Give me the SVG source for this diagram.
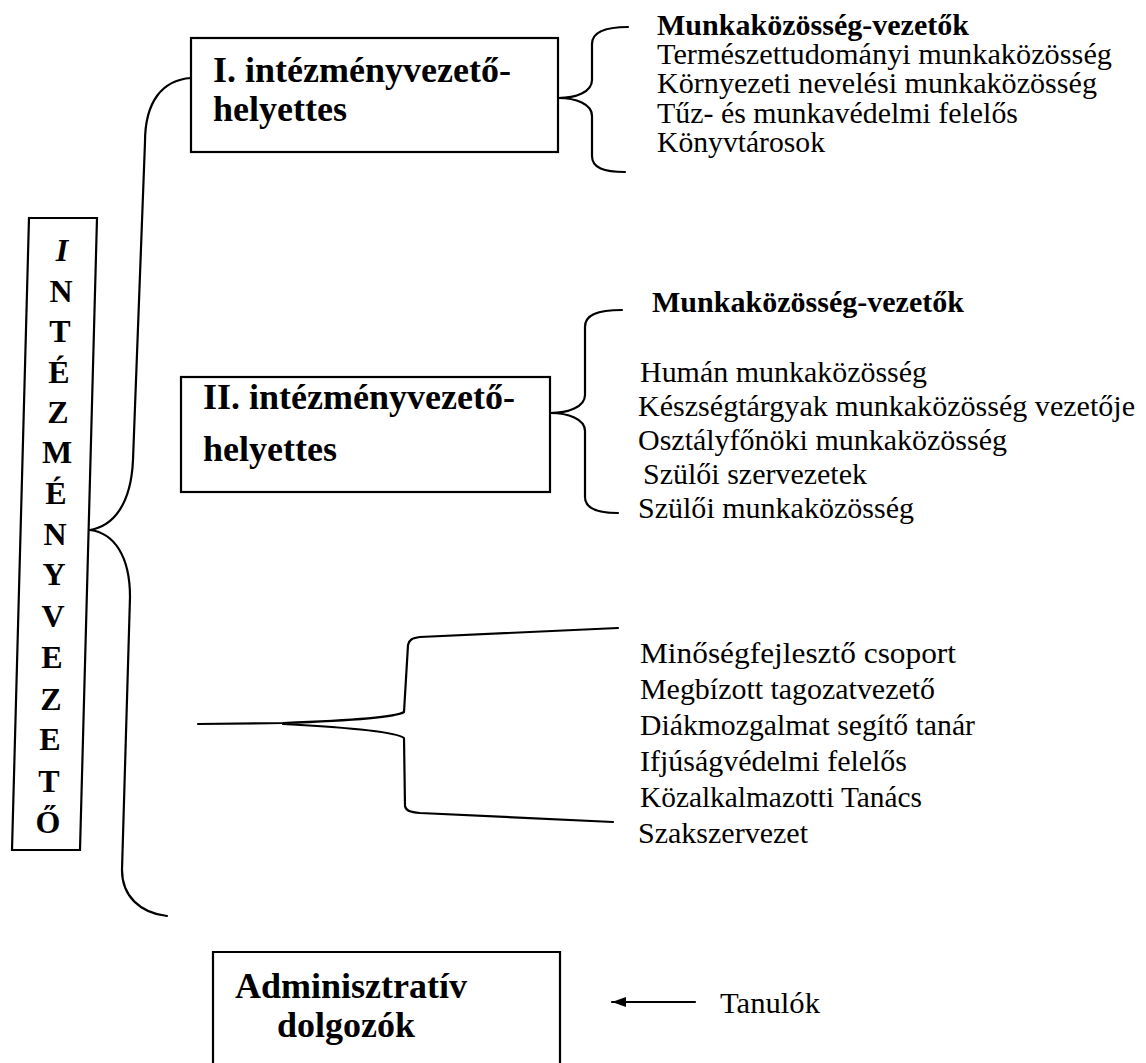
<svg xmlns="http://www.w3.org/2000/svg" width="1146" height="1063" viewBox="0 0 1146 1063">
<style>
.box{fill:#fff;stroke:#000;stroke-width:2.2}
.ln{fill:none;stroke:#000;stroke-width:2.2;stroke-linecap:round;stroke-linejoin:round}
.bt{font-family:"Liberation Serif","Times New Roman",serif;font-weight:bold;font-size:36px;fill:#000}
.vt{font-family:"Liberation Serif","Times New Roman",serif;font-weight:bold;font-size:32px;fill:#000;text-anchor:middle}
.t{font-family:"Liberation Serif","Times New Roman",serif;font-size:29px;fill:#000}
.tb{font-family:"Liberation Serif","Times New Roman",serif;font-weight:bold;font-size:29px;fill:#000}
</style>
<defs>
<marker id="ah" viewBox="0 0 14 10" refX="14" refY="5" markerWidth="14" markerHeight="10" markerUnits="userSpaceOnUse" orient="auto">
<path d="M0,0 L14,5 L0,10 Z" fill="#000"/>
</marker>
</defs>
<rect width="1146" height="1063" fill="#fff"/>

<g id="connectors">
<path class="ln" d="M191,78 C162,80 145,102 145,142 L133,460 C131,505 113,526 90,530"/>
<path class="ln" d="M90,530 C114,533 130,556 130,597 L122,870 C122,896 140,913 167,916"/>
<path class="ln" d="M558,98 C576,98 592,92 592,80 L592,44 C592,32 604,27 628,27"/>
<path class="ln" d="M558,98 C576,98 592,104 592,116 L592,156 C592,168 604,172 625,172"/>
<path class="ln" d="M550,413 C568,413 585,407 585,395 L585,327 C585,315 597,310 622,310"/>
<path class="ln" d="M550,413 C568,413 585,419 585,431 L585,497 C585,508 597,513 618,513"/>
<path class="ln" d="M198,724 L283,723 C340,721 395,718 404,712 L408,645 C409,640 412,638 420,637 L618,628"/>
<path class="ln" d="M283,724 C340,727 395,731 404,738 L405,806 C406,811 410,812 420,813 L613,822"/>
<path class="ln" d="M695,1002 L612,1002" marker-end="url(#ah)"/>
</g>

<g id="node-intezmenyvezeto">
<polygon class="box" points="29,218 97,218 80,850 12,850"/>
<text class="vt" x="62" y="261" font-style="italic">I</text>
<text class="vt" x="61" y="302">N</text>
<text class="vt" x="60" y="342">T</text>
<text class="vt" x="59" y="383">É</text>
<text class="vt" x="58" y="423">Z</text>
<text class="vt" x="57" y="463">M</text>
<text class="vt" x="56" y="504">É</text>
<text class="vt" x="55" y="545">N</text>
<text class="vt" x="54" y="585">Y</text>
<text class="vt" x="53" y="627">V</text>
<text class="vt" x="52" y="668">E</text>
<text class="vt" x="51" y="710">Z</text>
<text class="vt" x="50" y="750">E</text>
<text class="vt" x="49" y="792">T</text>
<text class="vt" x="48" y="833">Ő</text>
</g>

<g id="node-helyettes1">
<rect class="box" x="191" y="38" width="367" height="114"/>
<text class="bt" x="213" y="82">I. intézményvezető-</text>
<text class="bt" x="213" y="121">helyettes</text>
</g>

<g id="node-helyettes2">
<rect class="box" x="181" y="377" width="369" height="115"/>
<text class="bt" x="203" y="409">II. intézményvezető-</text>
<text class="bt" x="203" y="461">helyettes</text>
</g>

<g id="node-adminisztrativ">
<path class="box" d="M213,1070 L213,952 L560,952 L560,1070"/>
<text class="bt" x="235" y="998">Adminisztratív</text>
<text class="bt" x="277" y="1037">dolgozók</text>
</g>

<g id="list-1">
<text class="tb" x="657" y="35" textLength="312" lengthAdjust="spacingAndGlyphs">Munkaközösség-vezetők</text>
<text class="t" x="657" y="64" textLength="455" lengthAdjust="spacingAndGlyphs">Természettudományi munkaközösség</text>
<text class="t" x="657" y="93" textLength="440" lengthAdjust="spacingAndGlyphs">Környezeti nevelési munkaközösség</text>
<text class="t" x="657" y="123" textLength="361" lengthAdjust="spacingAndGlyphs">Tűz- és munkavédelmi felelős</text>
<text class="t" x="657" y="152" textLength="168" lengthAdjust="spacingAndGlyphs">Könyvtárosok</text>
</g>

<g id="list-2">
<text class="tb" x="652" y="312" textLength="312" lengthAdjust="spacingAndGlyphs">Munkaközösség-vezetők</text>
<text class="t" x="640" y="382" textLength="287" lengthAdjust="spacingAndGlyphs">Humán munkaközösség</text>
<text class="t" x="638" y="416" textLength="497" lengthAdjust="spacingAndGlyphs">Készségtárgyak munkaközösség vezetője</text>
<text class="t" x="638" y="450" textLength="369" lengthAdjust="spacingAndGlyphs">Osztályfőnöki munkaközösség</text>
<text class="t" x="643" y="484" textLength="224" lengthAdjust="spacingAndGlyphs">Szülői szervezetek</text>
<text class="t" x="638" y="518" textLength="276" lengthAdjust="spacingAndGlyphs">Szülői munkaközösség</text>
</g>

<g id="list-3">
<text class="t" x="640" y="663" textLength="316" lengthAdjust="spacingAndGlyphs">Minőségfejlesztő csoport</text>
<text class="t" x="640" y="699" textLength="295" lengthAdjust="spacingAndGlyphs">Megbízott tagozatvezető</text>
<text class="t" x="640" y="735" textLength="335" lengthAdjust="spacingAndGlyphs">Diákmozgalmat segítő tanár</text>
<text class="t" x="640" y="771" textLength="267" lengthAdjust="spacingAndGlyphs">Ifjúságvédelmi felelős</text>
<text class="t" x="640" y="807" textLength="282" lengthAdjust="spacingAndGlyphs">Közalkalmazotti Tanács</text>
<text class="t" x="638" y="843" textLength="170" lengthAdjust="spacingAndGlyphs">Szakszervezet</text>
</g>

<g id="label-tanulok">
<text class="t" x="720" y="1013" textLength="100" lengthAdjust="spacingAndGlyphs">Tanulók</text>
</g>
</svg>
